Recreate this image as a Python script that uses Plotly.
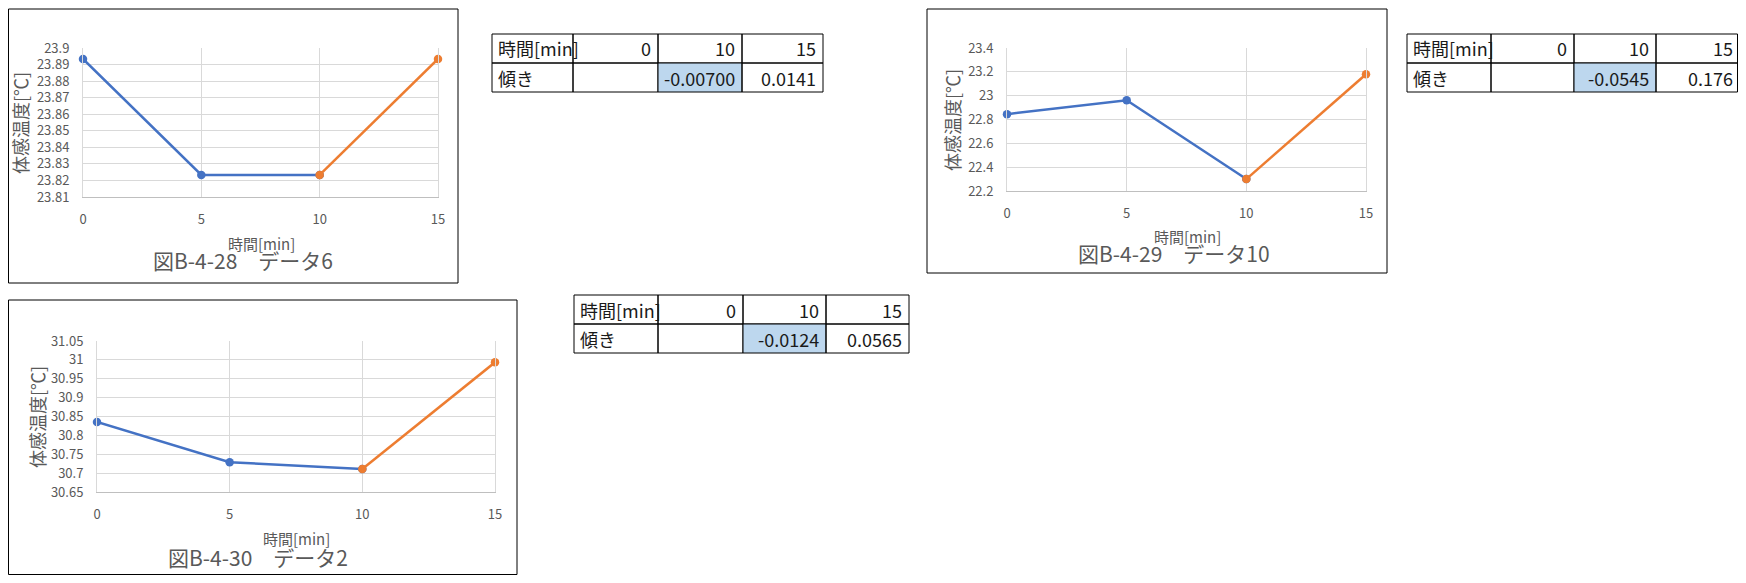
import plotly.graph_objects as go

# page is 1746x583; the default page body has an 8px margin, so the figure is 16px smaller
PAGE_W, PAGE_H = 1746, 583
OFF = 8
W, H = PAGE_W - 2 * OFF, PAGE_H - 2 * OFF

BLUE = "#4472C4"
ORANGE = "#ED7D31"
GRID = "#D9D9D9"
AXIS = "#BFBFBF"
TXT = "#595959"
HILITE = "#BDD7EE"
FONT = "Noto Sans CJK JP, Noto Sans, sans-serif"

# ---------------- data ----------------
x_before = [0, 5, 10]
x_after = [10, 15]

data6_before = [23.8934, 23.8233, 23.8233]
data6_after = [23.8233, 23.8934]
data10_before = [22.845, 22.962, 22.300]
data10_after = [22.300, 23.180]
data2_before = [30.8355, 30.729, 30.711]
data2_after = [30.711, 30.9935]

x_ticks = [0, 5, 10, 15]
y_ticks_6 = [23.81, 23.82, 23.83, 23.84, 23.85, 23.86, 23.87, 23.88, 23.89, 23.9]
y_ticklabels_6 = ["23.81", "23.82", "23.83", "23.84", "23.85", "23.86", "23.87", "23.88", "23.89", "23.9"]
y_ticks_10 = [22.2, 22.4, 22.6, 22.8, 23.0, 23.2, 23.4]
y_ticklabels_10 = ["22.2", "22.4", "22.6", "22.8", "23", "23.2", "23.4"]
y_ticks_2 = [30.65, 30.7, 30.75, 30.8, 30.85, 30.9, 30.95, 31.0, 31.05]
y_ticklabels_2 = ["30.65", "30.7", "30.75", "30.8", "30.85", "30.9", "30.95", "31", "31.05"]

captions = ["図B-4-28　データ6", "図B-4-29　データ10", "図B-4-30　データ2"]
x_title = "時間[min]"
y_title = "体感温度[℃]"

table_header = ["時間[min]", "0", "10", "15"]
slopes_6 = ["傾き", "", "-0.00700", "0.0141"]
slopes_10 = ["傾き", "", "-0.0545", "0.176"]
slopes_2 = ["傾き", "", "-0.0124", "0.0565"]

# ---------------- layout geometry (page pixels) ----------------
specs = [
    dict(before=data6_before, after=data6_after, yt=y_ticks_6, ytl=y_ticklabels_6,
         caption=captions[0], slopes=slopes_6,
         box=(3, 9, 458, 283), plot=(83, 48, 438, 197),
         ytitle=(20, 123), xtitle=(261, 243), cap=(243, 260),
         tcols=[492, 573, 658, 742, 823], trows=[34, 63, 92]),
    dict(before=data10_before, after=data10_after, yt=y_ticks_10, ytl=y_ticklabels_10,
         caption=captions[1], slopes=slopes_10,
         box=(927, 9, 1387, 273), plot=(1007, 48, 1366, 191),
         ytitle=(952, 120), xtitle=(1187, 237), cap=(1174, 253),
         tcols=[1407, 1491, 1574, 1656, 1740], trows=[34, 63, 92]),
    dict(before=data2_before, after=data2_after, yt=y_ticks_2, ytl=y_ticklabels_2,
         caption=captions[2], slopes=slopes_2,
         box=(7, 300, 517, 579), plot=(97, 341, 495, 492),
         ytitle=(37, 417), xtitle=(296, 538), cap=(258, 557),
         tcols=[574, 658, 743, 826, 909], trows=[295, 324, 353]),
]


def px(x):
    v = (x - OFF) / W
    return min(max(v, 0.5 / W), 1 - 0.5 / W)


def py(y):
    v = 1 - (y - OFF) / H
    return min(max(v, 0.5 / H), 1 - 0.5 / H)


fig = go.Figure()
shapes = []
annotations = []

for i, s in enumerate(specs):
    n = "" if i == 0 else str(i + 1)
    xa, ya = "x" + n, "y" + n
    for xs, ys, col in [(x_before, s["before"], BLUE), (x_after, s["after"], ORANGE)]:
        fig.add_trace(go.Scatter(
            x=xs, y=ys, xaxis=xa, yaxis=ya, mode="lines+markers",
            line=dict(color=col, width=2.5), marker=dict(color=col, size=8.5),
            cliponaxis=False, showlegend=False, hoverinfo="skip"))
    x0, y0, x1, y1 = s["plot"]
    fig.update_layout(**{
        "xaxis" + n: dict(
            domain=[px(x0), px(x1)], anchor=ya, range=[0, 15],
            tickvals=x_ticks, ticktext=[str(v) for v in x_ticks],
            showgrid=True, gridcolor=GRID, gridwidth=1, zeroline=False,
            showline=True, linecolor=AXIS, linewidth=1,
            tickfont=dict(family=FONT, size=13, color=TXT),
            ticks="", ticklabelstandoff=10, fixedrange=True, automargin=False),
        "yaxis" + n: dict(
            domain=[py(y1), py(y0)], anchor=xa, range=[s["yt"][0], s["yt"][-1]],
            tickvals=s["yt"], ticktext=s["ytl"],
            showgrid=True, gridcolor=GRID, gridwidth=1, zeroline=False,
            showline=True, linecolor=GRID, linewidth=1, mirror=True,
            tickfont=dict(family=FONT, size=13, color=TXT),
            ticks="", ticklabelstandoff=10, fixedrange=True, automargin=False),
    })
    # chart frame
    bx0, by0, bx1, by1 = s["box"]
    shapes.append(dict(type="rect", xref="paper", yref="paper",
                       x0=px(bx0), x1=px(bx1), y0=py(by1), y1=py(by0),
                       line=dict(color="#000000", width=1), fillcolor="rgba(0,0,0,0)"))
    # titles
    annotations.append(dict(x=px(s["ytitle"][0]), y=py(s["ytitle"][1]), xref="paper", yref="paper",
                            text=y_title, textangle=-90, showarrow=False,
                            xanchor="center", yanchor="middle",
                            font=dict(family=FONT, size=18, color=TXT)))
    annotations.append(dict(x=px(s["xtitle"][0]), y=py(s["xtitle"][1]), xref="paper", yref="paper",
                            text=x_title, showarrow=False, xanchor="center", yanchor="middle",
                            font=dict(family=FONT, size=15, color=TXT)))
    annotations.append(dict(x=px(s["cap"][0]), y=py(s["cap"][1]), xref="paper", yref="paper",
                            text=s["caption"], showarrow=False, xanchor="center", yanchor="middle",
                            font=dict(family=FONT, size=21, color=TXT)))
    # table
    cols, rows = s["tcols"], s["trows"]
    for r, rowvals in enumerate([table_header, s["slopes"]]):
        for c, val in enumerate(rowvals):
            fill = HILITE if (r == 1 and c == 2) else "rgba(0,0,0,0)"
            shapes.append(dict(type="rect", xref="paper", yref="paper",
                               x0=px(cols[c]), x1=px(cols[c + 1]),
                               y0=py(rows[r + 1]), y1=py(rows[r]),
                               line=dict(color="#000000", width=1), fillcolor=fill))
            if val == "":
                continue
            if c == 0:
                ax, anc = px(cols[c] + 4), "left"
            else:
                ax, anc = px(cols[c + 1] - 5), "right"
            annotations.append(dict(x=ax, y=py((rows[r] + rows[r + 1]) / 2), xref="paper", yref="paper",
                                    text=val, showarrow=False, xanchor=anc, yanchor="middle",
                                    font=dict(family=FONT, size=18, color="#1a1a1a")))

fig.update_layout(
    width=W, height=H, margin=dict(l=0, r=0, t=0, b=0, pad=0), autosize=False,
    paper_bgcolor="white", plot_bgcolor="white",
    shapes=shapes, annotations=annotations, showlegend=False,
    font=dict(family=FONT, color=TXT),
)

fig.write_html("out.html", config={"displayModeBar": False})
